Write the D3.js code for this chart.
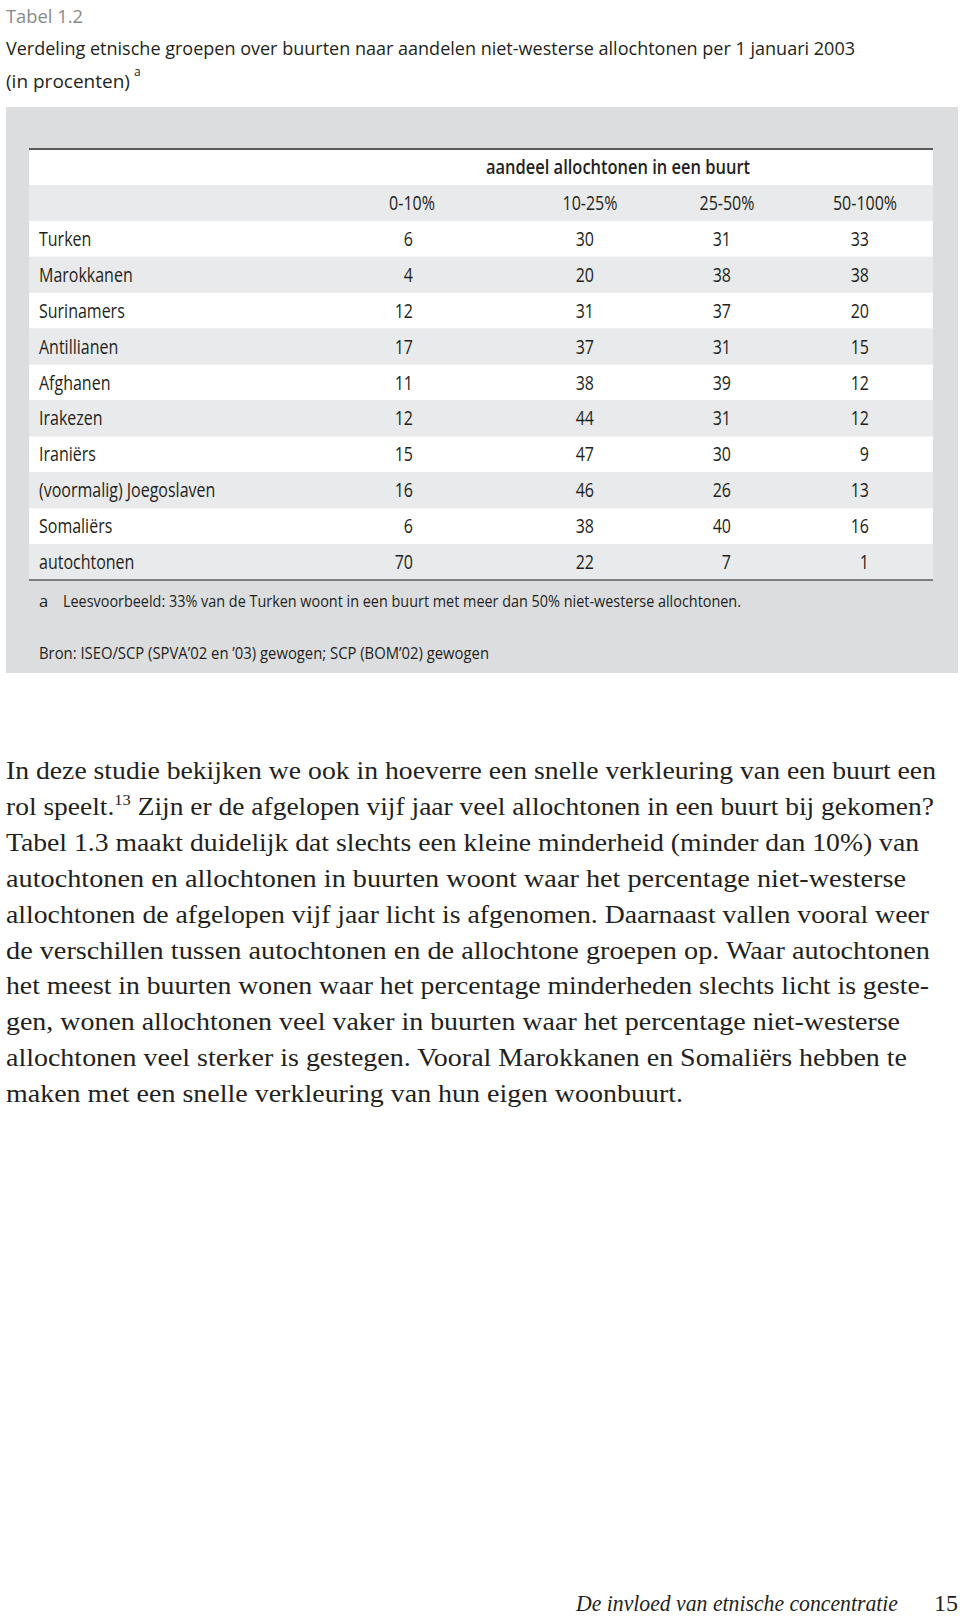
<!DOCTYPE html>
<html>
<head>
<meta charset="utf-8">
<script src="https://cdn.jsdelivr.net/npm/d3@7/dist/d3.min.js"></script>
<style>
  html, body { margin: 0; padding: 0; background: #ffffff; }
  svg { display: block; }
</style>
</head>
<body>
<svg id="chart" width="960" height="1622"></svg>
<script>
// ---------- data ----------
const tableLabel = "Tabel 1.2";
const titleLines = [
  "Verdeling etnische groepen over buurten naar aandelen niet-westerse allochtonen per 1 januari 2003",
  "(in procenten)"
];
const titleNoteMark = "a";
const spannerLabel = "aandeel allochtonen in een buurt";
const columns = ["0-10%", "10-25%", "25-50%", "50-100%"];
const groups = ["Turken", "Marokkanen", "Surinamers", "Antillianen", "Afghanen",
  "Irakezen", "Iraniërs", "(voormalig) Joegoslaven", "Somaliërs", "autochtonen"];
const share0to10   = [6, 4, 12, 17, 11, 12, 15, 16, 6, 70];
const share10to25  = [30, 20, 31, 37, 38, 44, 47, 46, 38, 22];
const share25to50  = [31, 38, 37, 31, 39, 31, 30, 26, 40, 7];
const share50to100 = [33, 38, 20, 15, 12, 12, 9, 13, 16, 1];
const footnoteMark = "a";
const footnoteText = "Leesvoorbeeld: 33% van de Turken woont in een buurt met meer dan 50% niet-westerse allochtonen.";
const sourceText = "Bron: ISEO/SCP (SPVA’02 en ’03) gewogen; SCP (BOM’02) gewogen";
const paragraphLines = [
  ["In deze studie bekijken we ook in hoeverre een snelle verkleuring van een buurt een"],
  ["rol speelt.", {sup: "13"}, " Zijn er de afgelopen vijf jaar veel allochtonen in een buurt bij gekomen?"],
  ["Tabel 1.3 maakt duidelijk dat slechts een kleine minderheid (minder dan 10%) van"],
  ["autochtonen en allochtonen in buurten woont waar het percentage niet-westerse"],
  ["allochtonen de afgelopen vijf jaar licht is afgenomen. Daarnaast vallen vooral weer"],
  ["de verschillen tussen autochtonen en de allochtone groepen op. Waar autochtonen"],
  ["het meest in buurten wonen waar het percentage minderheden slechts licht is geste-"],
  ["gen, wonen allochtonen veel vaker in buurten waar het percentage niet-westerse"],
  ["allochtonen veel sterker is gestegen. Vooral Marokkanen en Somaliërs hebben te"],
  ["maken met een snelle verkleuring van hun eigen woonbuurt."]
];
const footerTitle = "De invloed van etnische concentratie";
const pageNumber = "15";

const seriesByColumn = [share0to10, share10to25, share25to50, share50to100];

// ---------- layout ----------
const svg = d3.select("#chart");
const sansFont = "'Open Sans', 'Noto Sans', sans-serif";
const serifFont = "'Liberation Serif', 'DejaVu Serif', serif";
const ink = "#231f20";

function fitTo(sel, target) {
  sel.each(function () {
    this.setAttribute("textLength", target);
    this.setAttribute("lengthAdjust", "spacingAndGlyphs");
  });
}
function scaleBy(sel, k) {
  sel.each(function () {
    const w = this.getComputedTextLength();
    this.setAttribute("textLength", w * k);
    this.setAttribute("lengthAdjust", "spacingAndGlyphs");
  });
}

// ---- caption ----
const titleFs = 19;
const capTab = svg.append("text").attr("x", 6).attr("y", 23)
  .attr("font-family", sansFont).attr("font-size", titleFs).attr("fill", "#8a8a8a")
  .text(tableLabel);
fitTo(capTab, 77);
const t1 = svg.append("text").attr("x", 6).attr("y", 55)
  .attr("font-family", sansFont).attr("font-size", titleFs).attr("fill", ink)
  .text(titleLines[0]);
fitTo(t1, 849);
const t2 = svg.append("text").attr("x", 6).attr("y", 88)
  .attr("font-family", sansFont).attr("font-size", titleFs).attr("fill", ink)
  .text(titleLines[1]);
const t2w = t2.node().getComputedTextLength();
svg.append("text").attr("x", 6 + t2w + 4).attr("y", 76)
  .attr("font-family", sansFont).attr("font-size", 12).attr("fill", ink)
  .text(titleNoteMark);

// ---- table box ----
const box = {x0: 6, x1: 958, y0: 107, y1: 673};
const tbl = {x0: 29, x1: 933, top: 149, head1: 185, bottom: 580};
svg.append("rect").attr("x", box.x0).attr("y", box.y0)
  .attr("width", box.x1 - box.x0).attr("height", box.y1 - box.y0).attr("fill", "#dcdddf");

const rowKeys = ["__header", ...groups];
const y = d3.scaleBand().domain(rowKeys).range([tbl.head1, tbl.bottom]).padding(0);
const colRight = d3.scaleOrdinal().domain(columns).range([413, 594, 731, 869]);
const colCenter = d3.scaleOrdinal().domain(columns).range([412, 590, 727, 865]);

svg.append("rect").attr("x", tbl.x0).attr("y", tbl.top)
  .attr("width", tbl.x1 - tbl.x0).attr("height", tbl.head1 - tbl.top).attr("fill", "#ffffff");
svg.append("g").selectAll("rect").data(rowKeys).join("rect")
  .attr("x", tbl.x0).attr("width", tbl.x1 - tbl.x0)
  .attr("y", d => y(d)).attr("height", y.bandwidth())
  .attr("fill", (d, i) => i % 2 === 0 ? "#e9eaeb" : "#ffffff");

svg.append("line").attr("x1", tbl.x0).attr("x2", tbl.x1).attr("y1", tbl.top).attr("y2", tbl.top)
  .attr("stroke", "#5a5a5a").attr("stroke-width", 2);
svg.append("line").attr("x1", tbl.x0).attr("x2", tbl.x1).attr("y1", tbl.bottom).attr("y2", tbl.bottom)
  .attr("stroke", "#5a5a5a").attr("stroke-width", 1.6);

const tableK = 0.82;
const fs = 19.5;
const baseOff = 7;

const sp = svg.append("text").attr("x", 618).attr("y", (tbl.top + tbl.head1) / 2 + baseOff)
  .attr("text-anchor", "middle").attr("font-family", sansFont).attr("font-size", fs)
  .attr("font-weight", 600).attr("fill", ink).text(spannerLabel);
fitTo(sp, 264);

const ch = svg.append("g").selectAll("text").data(columns).join("text")
  .attr("x", d => colCenter(d)).attr("y", y("__header") + y.bandwidth() / 2 + baseOff)
  .attr("text-anchor", "middle").attr("font-family", sansFont).attr("font-size", fs)
  .attr("fill", ink).text(d => d);
scaleBy(ch, tableK);

const rl = svg.append("g").selectAll("text").data(groups).join("text")
  .attr("x", 39).attr("y", d => y(d) + y.bandwidth() / 2 + baseOff)
  .attr("font-family", sansFont).attr("font-size", fs).attr("fill", ink).text(d => d);
scaleBy(rl, tableK);

const cells = [];
groups.forEach((g, i) => columns.forEach((c, j) => cells.push({g, c, v: seriesByColumn[j][i]})));
const vals = svg.append("g").selectAll("text").data(cells).join("text")
  .attr("x", d => colRight(d.c)).attr("y", d => y(d.g) + y.bandwidth() / 2 + baseOff)
  .attr("text-anchor", "end").attr("font-family", sansFont).attr("font-size", fs)
  .attr("fill", ink).style("font-variant-numeric", "tabular-nums").text(d => d.v);
scaleBy(vals, tableK);

svg.append("text").attr("x", 39).attr("y", 607).attr("font-family", sansFont)
  .attr("font-size", 16.5).attr("fill", ink).text(footnoteMark);
const fn = svg.append("text").attr("x", 63).attr("y", 607).attr("font-family", sansFont)
  .attr("font-size", 16.5).attr("fill", ink).text(footnoteText);
fitTo(fn, 678);
const src = svg.append("text").attr("x", 39).attr("y", 659).attr("font-family", sansFont)
  .attr("font-size", 16.5).attr("fill", ink).text(sourceText);
fitTo(src, 450);

// ---- body paragraph ----
const paraTop = 779, paraStep = 35.9;
const paraRight = [936, 934, 919, 906, 929, 930, 929, 900, 907, 683];
paragraphLines.forEach((segs, i) => {
  const t = svg.append("text").attr("x", 6).attr("y", paraTop + i * paraStep)
    .attr("font-family", serifFont).attr("font-size", 25).attr("fill", ink);
  let raised = false;
  segs.forEach(s => {
    if (typeof s === "string") {
      const ts = t.append("tspan").text(s);
      if (raised) { ts.attr("dy", 10); raised = false; }
    } else {
      t.append("tspan").attr("font-size", 15).attr("dy", -10).text(s.sup);
      raised = true;
    }
  });
  fitTo(t, paraRight[i] - 6);
});

// ---- footer ----
const ft = svg.append("text").attr("x", 576).attr("y", 1611)
  .attr("font-family", serifFont).attr("font-style", "italic").attr("font-size", 24)
  .attr("fill", ink).text(footerTitle);
fitTo(ft, 322);
svg.append("text").attr("x", 958).attr("y", 1611).attr("text-anchor", "end")
  .attr("font-family", serifFont).attr("font-size", 24).attr("fill", ink).text(pageNumber);
</script>
</body>
</html>
